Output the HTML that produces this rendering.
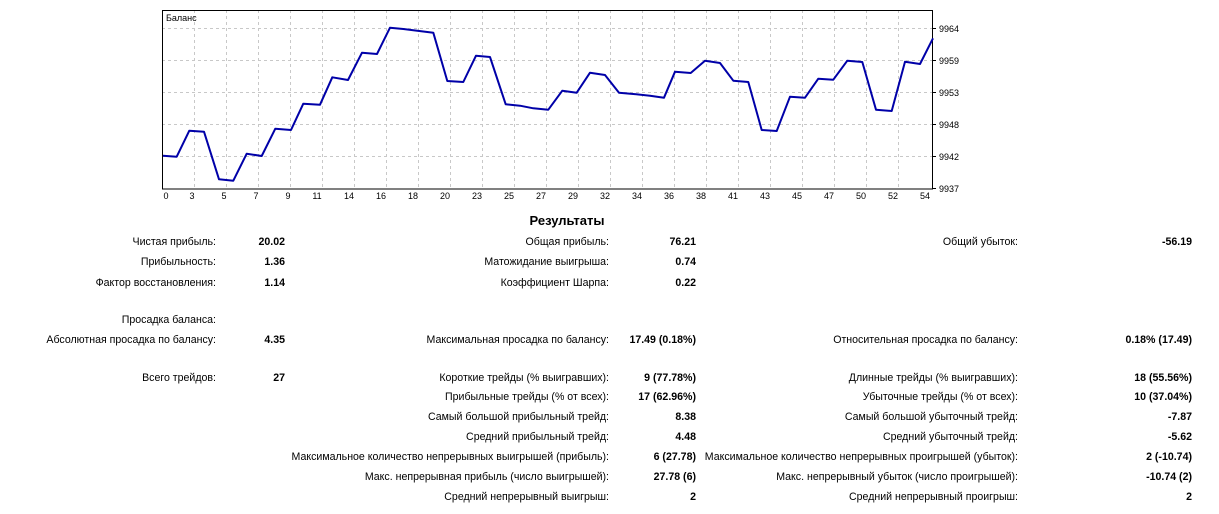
<!DOCTYPE html>
<html><head><meta charset="utf-8"><style>
body{margin:0;width:1219px;height:514px;background:#fff;position:relative;font-family:"Liberation Sans","DejaVu Sans",sans-serif;font-size:10.6px;color:#000;overflow:hidden}
.r{position:absolute;text-align:right;white-space:nowrap;line-height:13px}
.b{font-weight:bold}
</style></head><body>
<svg width="1219" height="210" style="position:absolute;left:0;top:0" font-family="Liberation Sans, sans-serif" font-size="10">
<g stroke="#c8c8c8" stroke-dasharray="3,3" stroke-width="1">
<line x1="162" x2="932" y1="28.5" y2="28.5"/><line x1="162" x2="932" y1="60.5" y2="60.5"/><line x1="162" x2="932" y1="92.5" y2="92.5"/><line x1="162" x2="932" y1="124.5" y2="124.5"/><line x1="162" x2="932" y1="156.5" y2="156.5"/>
</g>
<g stroke="#c8c8c8" stroke-dasharray="3,3">
<line x1="194.5" x2="194.5" y1="10" y2="189"/><line x1="226.5" x2="226.5" y1="10" y2="189"/><line x1="258.5" x2="258.5" y1="10" y2="189"/><line x1="290.5" x2="290.5" y1="10" y2="189"/><line x1="322.5" x2="322.5" y1="10" y2="189"/><line x1="354.5" x2="354.5" y1="10" y2="189"/><line x1="386.5" x2="386.5" y1="10" y2="189"/><line x1="418.5" x2="418.5" y1="10" y2="189"/><line x1="450.5" x2="450.5" y1="10" y2="189"/><line x1="482.5" x2="482.5" y1="10" y2="189"/><line x1="514.5" x2="514.5" y1="10" y2="189"/><line x1="546.5" x2="546.5" y1="10" y2="189"/><line x1="578.5" x2="578.5" y1="10" y2="189"/><line x1="610.5" x2="610.5" y1="10" y2="189"/><line x1="642.5" x2="642.5" y1="10" y2="189"/><line x1="674.5" x2="674.5" y1="10" y2="189"/><line x1="706.5" x2="706.5" y1="10" y2="189"/><line x1="738.5" x2="738.5" y1="10" y2="189"/><line x1="770.5" x2="770.5" y1="10" y2="189"/><line x1="802.5" x2="802.5" y1="10" y2="189"/><line x1="834.5" x2="834.5" y1="10" y2="189"/><line x1="866.5" x2="866.5" y1="10" y2="189"/><line x1="898.5" x2="898.5" y1="10" y2="189"/>
</g>
<rect x="162.5" y="10.5" width="770" height="178.5" fill="none" stroke="#000"/>
<g stroke="#000"><line x1="932" x2="936" y1="28.5" y2="28.5"/><line x1="932" x2="936" y1="60.5" y2="60.5"/><line x1="932" x2="936" y1="92.5" y2="92.5"/><line x1="932" x2="936" y1="124.5" y2="124.5"/><line x1="932" x2="936" y1="156.5" y2="156.5"/><line x1="932" x2="936" y1="188.5" y2="188.5"/></g>
<text x="166" y="21" font-size="9">Баланс</text>
<polyline fill="none" stroke="#0000a8" stroke-width="2" stroke-linejoin="round" points="163,155.7 176.7,156.7 189.3,130.7 204,131.7 219,179.3 233.3,180.7 246.7,153.7 261.7,156 275.3,128.7 291,130 303.3,103.7 320,104.7 332.3,77.3 348,80 362,52.7 377,54 390,27.7 403.3,29 433.3,32.7 447.3,81 463.3,82 476,55.7 490,57 505.7,104.3 520,105.7 533.3,108.3 548.3,109.7 562.3,90.7 576.7,92.7 590,72.7 605,75 619,92.7 633.3,94 650,95.7 664,97.7 675,71.7 690.7,73 705,60.7 720,63 733.3,80.7 748.3,82 761.7,130 776.7,131 790,96.7 805,97.7 818.3,78.7 833.3,79.7 847.3,60.7 862.3,62 876,109.7 891.7,111 905,61.7 920,64 933,38.3"/>
<g font-size="9">
<text x="939" y="32">9964</text><text x="939" y="64">9959</text><text x="939" y="96">9953</text><text x="939" y="128">9948</text><text x="939" y="160">9942</text><text x="939" y="192">9937</text>
</g>
<g font-size="9" text-anchor="middle">
<text x="166" y="199">0</text><text x="192" y="199">3</text><text x="224" y="199">5</text><text x="256" y="199">7</text><text x="288" y="199">9</text><text x="317" y="199">11</text><text x="349" y="199">14</text><text x="381" y="199">16</text><text x="413" y="199">18</text><text x="445" y="199">20</text><text x="477" y="199">23</text><text x="509" y="199">25</text><text x="541" y="199">27</text><text x="573" y="199">29</text><text x="605" y="199">32</text><text x="637" y="199">34</text><text x="669" y="199">36</text><text x="701" y="199">38</text><text x="733" y="199">41</text><text x="765" y="199">43</text><text x="797" y="199">45</text><text x="829" y="199">47</text><text x="861" y="199">50</text><text x="893" y="199">52</text><text x="925" y="199">54</text>
</g>
</svg>
<div class="r b" style="left:467px;width:200px;text-align:center;top:214px;font-size:13px">Результаты</div>

<div class="r" style="right:1003px;top:236px">Чистая прибыль:</div><div class="r b" style="right:934px;top:236px">20.02</div>
<div class="r" style="right:1003px;top:256px">Прибыльность:</div><div class="r b" style="right:934px;top:256px">1.36</div>
<div class="r" style="right:1003px;top:277px">Фактор восстановления:</div><div class="r b" style="right:934px;top:277px">1.14</div>
<div class="r" style="right:1003px;top:314px">Просадка баланса:</div>
<div class="r" style="right:1003px;top:334px">Абсолютная просадка по балансу:</div><div class="r b" style="right:934px;top:334px">4.35</div>
<div class="r" style="right:1003px;top:372px">Всего трейдов:</div><div class="r b" style="right:934px;top:372px">27</div>

<div class="r" style="right:610px;top:236px">Общая прибыль:</div><div class="r b" style="right:523px;top:236px">76.21</div>
<div class="r" style="right:610px;top:256px">Матожидание выигрыша:</div><div class="r b" style="right:523px;top:256px">0.74</div>
<div class="r" style="right:610px;top:277px">Коэффициент Шарпа:</div><div class="r b" style="right:523px;top:277px">0.22</div>
<div class="r" style="right:610px;top:334px">Максимальная просадка по балансу:</div><div class="r b" style="right:523px;top:334px">17.49 (0.18%)</div>
<div class="r" style="right:610px;top:372px">Короткие трейды (% выигравших):</div><div class="r b" style="right:523px;top:372px">9 (77.78%)</div>
<div class="r" style="right:610px;top:391px">Прибыльные трейды (% от всех):</div><div class="r b" style="right:523px;top:391px">17 (62.96%)</div>
<div class="r" style="right:610px;top:411px">Самый большой прибыльный трейд:</div><div class="r b" style="right:523px;top:411px">8.38</div>
<div class="r" style="right:610px;top:431px">Средний прибыльный трейд:</div><div class="r b" style="right:523px;top:431px">4.48</div>
<div class="r" style="right:610px;top:451px">Максимальное количество непрерывных выигрышей (прибыль):</div><div class="r b" style="right:523px;top:451px">6 (27.78)</div>
<div class="r" style="right:610px;top:471px">Макс. непрерывная прибыль (число выигрышей):</div><div class="r b" style="right:523px;top:471px">27.78 (6)</div>
<div class="r" style="right:610px;top:491px">Средний непрерывный выигрыш:</div><div class="r b" style="right:523px;top:491px">2</div>

<div class="r" style="right:201px;top:236px">Общий убыток:</div><div class="r b" style="right:27px;top:236px">-56.19</div>
<div class="r" style="right:201px;top:334px">Относительная просадка по балансу:</div><div class="r b" style="right:27px;top:334px">0.18% (17.49)</div>
<div class="r" style="right:201px;top:372px">Длинные трейды (% выигравших):</div><div class="r b" style="right:27px;top:372px">18 (55.56%)</div>
<div class="r" style="right:201px;top:391px">Убыточные трейды (% от всех):</div><div class="r b" style="right:27px;top:391px">10 (37.04%)</div>
<div class="r" style="right:201px;top:411px">Самый большой убыточный трейд:</div><div class="r b" style="right:27px;top:411px">-7.87</div>
<div class="r" style="right:201px;top:431px">Средний убыточный трейд:</div><div class="r b" style="right:27px;top:431px">-5.62</div>
<div class="r" style="right:201px;top:451px">Максимальное количество непрерывных проигрышей (убыток):</div><div class="r b" style="right:27px;top:451px">2 (-10.74)</div>
<div class="r" style="right:201px;top:471px">Макс. непрерывный убыток (число проигрышей):</div><div class="r b" style="right:27px;top:471px">-10.74 (2)</div>
<div class="r" style="right:201px;top:491px">Средний непрерывный проигрыш:</div><div class="r b" style="right:27px;top:491px">2</div>
</body></html>
